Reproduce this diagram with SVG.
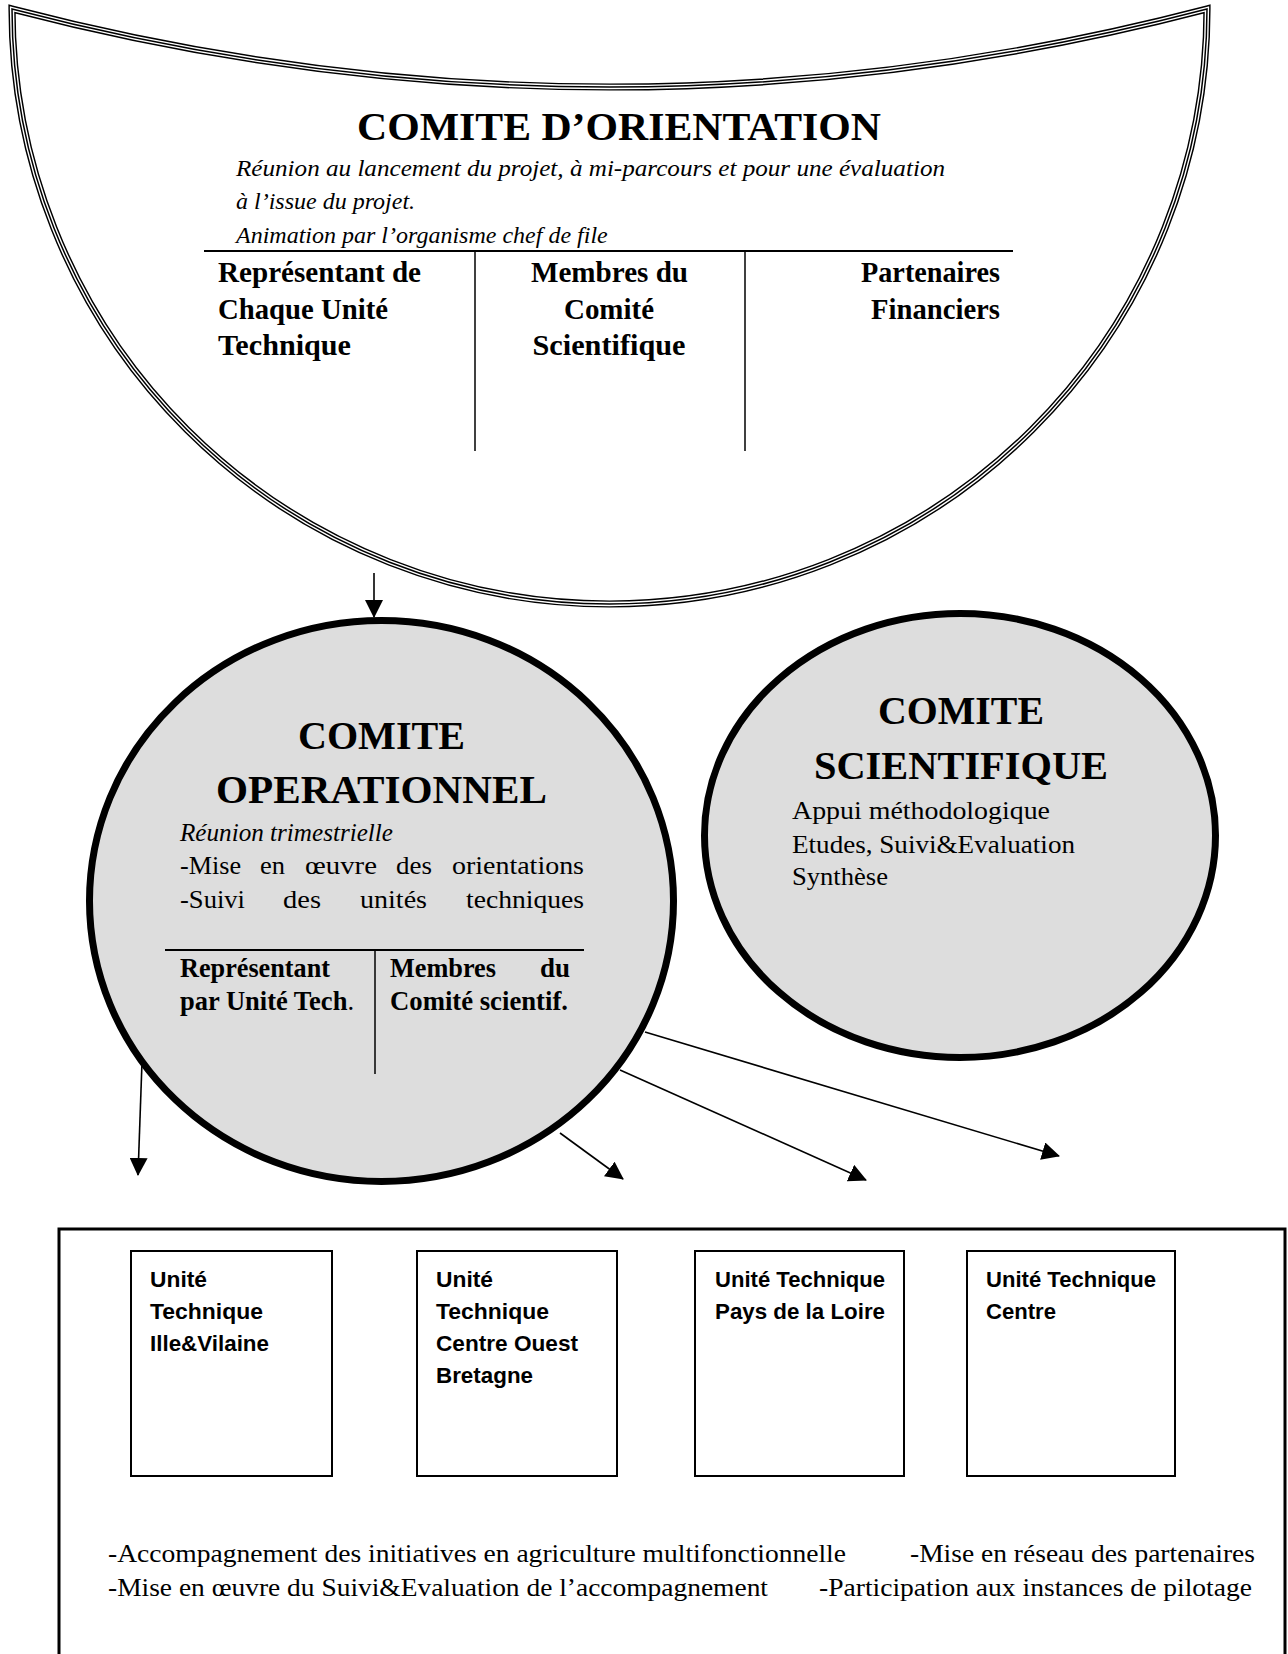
<svg xmlns="http://www.w3.org/2000/svg" xmlns:xlink="http://www.w3.org/1999/xlink" width="1288" height="1654" viewBox="0 0 1288 1654">
<style>
  text { fill: #000; }
  .title { font-family: "Liberation Serif", "Times New Roman", serif; font-weight: bold; font-size: 41px; }
  .it { font-family: "Liberation Serif", "Times New Roman", serif; font-style: italic; font-size: 24px; }
  .colb { font-family: "Liberation Serif", "Times New Roman", serif; font-weight: bold; font-size: 30px; }
  .opb { font-family: "Liberation Serif", "Times New Roman", serif; font-weight: bold; font-size: 26.5px; }
  .opr { font-family: "Liberation Serif", "Times New Roman", serif; font-size: 26px; }
  .opi { font-family: "Liberation Serif", "Times New Roman", serif; font-style: italic; font-size: 24.5px; }
  .sci { font-family: "Liberation Serif", "Times New Roman", serif; font-size: 25.5px; }
  .unit { font-family: "Liberation Sans", Arial, sans-serif; font-weight: bold; font-size: 22.5px; }
  .bot { font-family: "Liberation Serif", "Times New Roman", serif; font-size: 26px; }
  .disc { fill: #dddddd; stroke: #000; stroke-width: 7; }
  .box { fill: #fff; stroke: #000; stroke-width: 2; }
  .rule { stroke: #000; fill: none; }
  .conn { stroke: #000; stroke-width: 1.6; fill: none; marker-end: url(#arr); }
</style>
<defs>
  <marker id="arr" viewBox="0 0 18 18" refX="17" refY="9" markerWidth="18" markerHeight="18" markerUnits="userSpaceOnUse" orient="auto">
    <path d="M0,0 L18,9 L0,18 z" fill="#000"/>
  </marker>
  <path id="bowl" d="M12,9 Q609.5,165 1207,9 A597.5 595 0 0 1 12,9 Z"/>
</defs>
<rect width="1288" height="1654" fill="#fff"/>

<g id="comite-orientation">
  <use xlink:href="#bowl" fill="#fff" stroke="#000" stroke-width="7.2" stroke-linejoin="miter" stroke-miterlimit="20"/>
  <use xlink:href="#bowl" fill="none" stroke="#fff" stroke-width="4.3" stroke-linejoin="miter" stroke-miterlimit="20"/>
  <use xlink:href="#bowl" fill="none" stroke="#000" stroke-width="1.5" stroke-linejoin="miter" stroke-miterlimit="20"/>
  <text class="title" x="619" y="140" text-anchor="middle" textLength="524" lengthAdjust="spacingAndGlyphs">COMITE D’ORIENTATION</text>
  <text class="it" x="236" y="176" textLength="709" lengthAdjust="spacingAndGlyphs">Réunion au lancement du projet, à mi-parcours et pour une évaluation</text>
  <text class="it" x="236" y="209">à l’issue du projet.</text>
  <text class="it" x="236" y="243">Animation par l’organisme chef de file</text>
  <line class="rule" x1="204" y1="251" x2="1013" y2="251" stroke-width="2"/>
  <line class="rule" x1="475" y1="251" x2="475" y2="451" stroke-width="1.5"/>
  <line class="rule" x1="745" y1="251" x2="745" y2="451" stroke-width="1.5"/>
  <text class="colb" x="218" y="282" textLength="203" lengthAdjust="spacingAndGlyphs">Représentant de</text>
  <text class="colb" x="218" y="319" textLength="170" lengthAdjust="spacingAndGlyphs">Chaque Unité</text>
  <text class="colb" x="218" y="355" textLength="133" lengthAdjust="spacingAndGlyphs">Technique</text>
  <text class="colb" x="609.5" y="282" text-anchor="middle" textLength="157" lengthAdjust="spacingAndGlyphs">Membres du</text>
  <text class="colb" x="609" y="319" text-anchor="middle" textLength="90" lengthAdjust="spacingAndGlyphs">Comité</text>
  <text class="colb" x="609" y="355" text-anchor="middle" textLength="153" lengthAdjust="spacingAndGlyphs">Scientifique</text>
  <text class="colb" x="1000" y="282" text-anchor="end" textLength="139" lengthAdjust="spacingAndGlyphs">Partenaires</text>
  <text class="colb" x="1000" y="319" text-anchor="end" textLength="129" lengthAdjust="spacingAndGlyphs">Financiers</text>
</g>

<g id="comite-operationnel">
  <ellipse class="disc" cx="381.5" cy="901" rx="292" ry="280.5"/>
  <text class="title" x="381.5" y="749" text-anchor="middle" textLength="167" lengthAdjust="spacingAndGlyphs">COMITE</text>
  <text class="title" x="381.5" y="803" text-anchor="middle" textLength="331" lengthAdjust="spacingAndGlyphs">OPERATIONNEL</text>
  <text class="opi" x="180" y="841" textLength="213" lengthAdjust="spacingAndGlyphs">Réunion trimestrielle</text>
  <text class="opr" x="180" y="874" textLength="61" lengthAdjust="spacingAndGlyphs">-Mise</text>
  <text class="opr" x="260" y="874" textLength="25" lengthAdjust="spacingAndGlyphs">en</text>
  <text class="opr" x="305" y="874" textLength="72" lengthAdjust="spacingAndGlyphs">œuvre</text>
  <text class="opr" x="396" y="874" textLength="36" lengthAdjust="spacingAndGlyphs">des</text>
  <text class="opr" x="452" y="874" textLength="132" lengthAdjust="spacingAndGlyphs">orientations</text>
  <text class="opr" x="180" y="908" textLength="65" lengthAdjust="spacingAndGlyphs">-Suivi</text>
  <text class="opr" x="283" y="908" textLength="38" lengthAdjust="spacingAndGlyphs">des</text>
  <text class="opr" x="360" y="908" textLength="67" lengthAdjust="spacingAndGlyphs">unités</text>
  <text class="opr" x="466" y="908" textLength="118" lengthAdjust="spacingAndGlyphs">techniques</text>
  <line class="rule" x1="165" y1="950" x2="584" y2="950" stroke-width="2"/>
  <line class="rule" x1="375" y1="950" x2="375" y2="1074" stroke-width="1.5"/>
  <text class="opb" x="180" y="977" textLength="150" lengthAdjust="spacingAndGlyphs">Représentant</text>
  <text class="opb" x="180" y="1010" textLength="174" lengthAdjust="spacingAndGlyphs">par Unité Tech<tspan font-weight="normal">.</tspan></text>
  <text class="opb" x="390" y="977" textLength="106" lengthAdjust="spacingAndGlyphs">Membres</text>
  <text class="opb" x="570" y="977" text-anchor="end" textLength="30" lengthAdjust="spacingAndGlyphs">du</text>
  <text class="opb" x="390" y="1010" textLength="178" lengthAdjust="spacingAndGlyphs">Comité scientif.</text>
</g>

<g id="comite-scientifique">
  <ellipse class="disc" cx="960" cy="835.5" rx="255.5" ry="222"/>
  <text class="title" x="961" y="724" text-anchor="middle" textLength="166" lengthAdjust="spacingAndGlyphs">COMITE</text>
  <text class="title" x="961" y="779" text-anchor="middle" textLength="294" lengthAdjust="spacingAndGlyphs">SCIENTIFIQUE</text>
  <text class="sci" x="792" y="819" textLength="258" lengthAdjust="spacingAndGlyphs">Appui méthodologique</text>
  <text class="sci" x="792" y="853" textLength="283" lengthAdjust="spacingAndGlyphs">Etudes, Suivi&amp;Evaluation</text>
  <text class="sci" x="792" y="885" textLength="96" lengthAdjust="spacingAndGlyphs">Synthèse</text>
</g>

<g id="unites-techniques">
  <rect x="59" y="1229" width="1226" height="520" fill="none" stroke="#000" stroke-width="3"/>
  <text class="bot" x="108" y="1562" textLength="738" lengthAdjust="spacingAndGlyphs">-Accompagnement des initiatives en agriculture multifonctionnelle</text>
  <text class="bot" x="910" y="1562" textLength="345" lengthAdjust="spacingAndGlyphs">-Mise en réseau des partenaires</text>
  <text class="bot" x="108" y="1596" textLength="660" lengthAdjust="spacingAndGlyphs">-Mise en œuvre du Suivi&amp;Evaluation de l’accompagnement</text>
  <text class="bot" x="819" y="1596" textLength="433" lengthAdjust="spacingAndGlyphs">-Participation aux instances de pilotage</text>
</g>

<g id="ut-ille-vilaine">
  <rect class="box" x="131" y="1251" width="201" height="225"/>
  <text class="unit" x="150" y="1287" textLength="57" lengthAdjust="spacingAndGlyphs">Unité</text>
  <text class="unit" x="150" y="1319" textLength="113" lengthAdjust="spacingAndGlyphs">Technique</text>
  <text class="unit" x="150" y="1351" textLength="119" lengthAdjust="spacingAndGlyphs">Ille&amp;Vilaine</text>
</g>
<g id="ut-centre-ouest-bretagne">
  <rect class="box" x="417" y="1251" width="200" height="225"/>
  <text class="unit" x="436" y="1287" textLength="57" lengthAdjust="spacingAndGlyphs">Unité</text>
  <text class="unit" x="436" y="1319" textLength="113" lengthAdjust="spacingAndGlyphs">Technique</text>
  <text class="unit" x="436" y="1351" textLength="142" lengthAdjust="spacingAndGlyphs">Centre Ouest</text>
  <text class="unit" x="436" y="1383" textLength="97" lengthAdjust="spacingAndGlyphs">Bretagne</text>
</g>
<g id="ut-pays-de-la-loire">
  <rect class="box" x="695" y="1251" width="209" height="225"/>
  <text class="unit" x="715" y="1287" textLength="170" lengthAdjust="spacingAndGlyphs">Unité Technique</text>
  <text class="unit" x="715" y="1319" textLength="170" lengthAdjust="spacingAndGlyphs">Pays de la Loire</text>
</g>
<g id="ut-centre">
  <rect class="box" x="967" y="1251" width="208" height="225"/>
  <text class="unit" x="986" y="1287" textLength="170" lengthAdjust="spacingAndGlyphs">Unité Technique</text>
  <text class="unit" x="986" y="1319" textLength="70" lengthAdjust="spacingAndGlyphs">Centre</text>
</g>

<g id="connectors">
  <line class="conn" x1="374" y1="573" x2="374" y2="617"/>
  <line class="conn" x1="142" y1="1062" x2="138" y2="1175"/>
  <line class="conn" x1="560" y1="1133" x2="623" y2="1179"/>
  <line class="conn" x1="620" y1="1070" x2="866" y2="1180"/>
  <line class="conn" x1="645" y1="1032" x2="1059" y2="1156"/>
</g>
</svg>
